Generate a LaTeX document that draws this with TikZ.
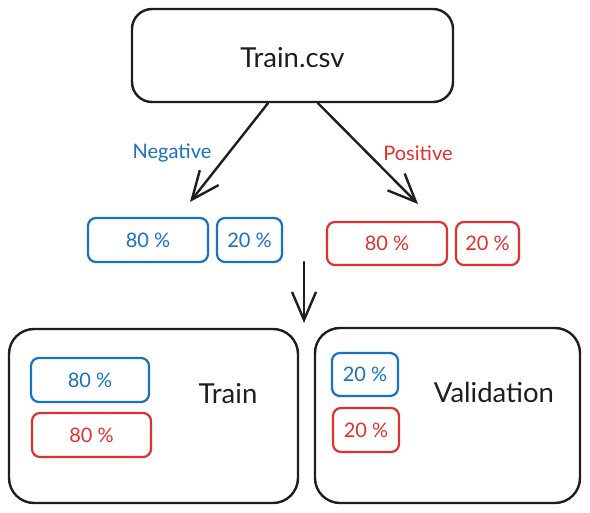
\documentclass[tikz,border=0pt]{standalone}
\usepackage{fontspec}
\setmainfont{Lato}
\usetikzlibrary{arrows.meta}
\definecolor{inkblack}{HTML}{1E1E1E}
\definecolor{inkblue}{HTML}{1971C2}
\definecolor{inkred}{HTML}{E03131}
\tikzset{
  bigbox/.style={draw=inkblack, line width=2.4pt, rounded corners=#1, inner sep=0pt},
  bluebox/.style={draw=inkblue, text=inkblue, line width=2.2pt, rounded corners=8pt, inner sep=0pt, font=\fontsize{20}{23}\selectfont},
  redbox/.style={draw=inkred, text=inkred, line width=2.2pt, rounded corners=8pt, inner sep=0pt, font=\fontsize{20}{23}\selectfont},
  bigtext/.style={text=inkblack, inner sep=0pt, font=\fontsize{27.5}{32}\selectfont},
  lbl/.style={inner sep=0pt, font=\fontsize{20}{23}\selectfont},
  arr/.style={draw=inkblack, line width=2.4pt, line cap=round, -{Straight Barb[length=28pt,width=24pt,line width=2.4pt]}},
}
\begin{document}
\begin{tikzpicture}[x=1pt,y=-1pt]
\useasboundingbox[fill=white] (0,0) rectangle (590,513);
% top
\node[bigbox=20pt, minimum width=321pt, minimum height=93pt] (top) at (292.5,55.5) {};
\node[bigtext] (topt) at (292.5,58) {Train.csv};
% labels
\node[lbl, text=inkblue] (neg) at (172,153) {Negative};
\node[lbl, text=inkred] (pos) at (418,153) {Positive};
% row boxes
\node[bluebox, minimum width=120pt, minimum height=44pt] (b80) at (148,240) {80 \%};
\node[bluebox, minimum width=65pt, minimum height=44pt] (b20) at (249.5,240) {20 \%};
\node[redbox, minimum width=120pt, minimum height=43pt] (r80) at (387,243.5) {80 \%};
\node[redbox, minimum width=63pt, minimum height=43pt] (r20) at (487.5,243.5) {20 \%};
% bottom boxes
\node[bigbox=25pt, minimum width=289pt, minimum height=174pt] (trainbox) at (153.5,416) {};
\node[bigbox=25pt, minimum width=265pt, minimum height=175pt] (valbox) at (447.5,415.5) {};
\node[bluebox, minimum width=118pt, minimum height=44pt] (tb80) at (90,380) {80 \%};
\node[redbox, minimum width=119pt, minimum height=44pt] (tr80) at (91.5,435) {80 \%};
\node[bluebox, minimum width=66pt, minimum height=43pt] (vb20) at (365,374.5) {20 \%};
\node[redbox, minimum width=66pt, minimum height=44pt] (vr20) at (366,430) {20 \%};
\node[bigtext] (traint) at (228,394) {Train};
\node[bigtext] (valt) at (494,392) {Validation};
% arrows
\coordinate (tipL) at (190,202);
\coordinate (tipR) at (418,204);
\coordinate (downS) at (304,262);
\coordinate (downE) at (304,323);
\draw[arr] ([xshift=-24.5pt]top.south) -- (tipL);
\draw[arr] ([xshift=25.5pt]top.south) -- (tipR);
\draw[arr] (downS) -- (downE);
\end{tikzpicture}
\end{document}
